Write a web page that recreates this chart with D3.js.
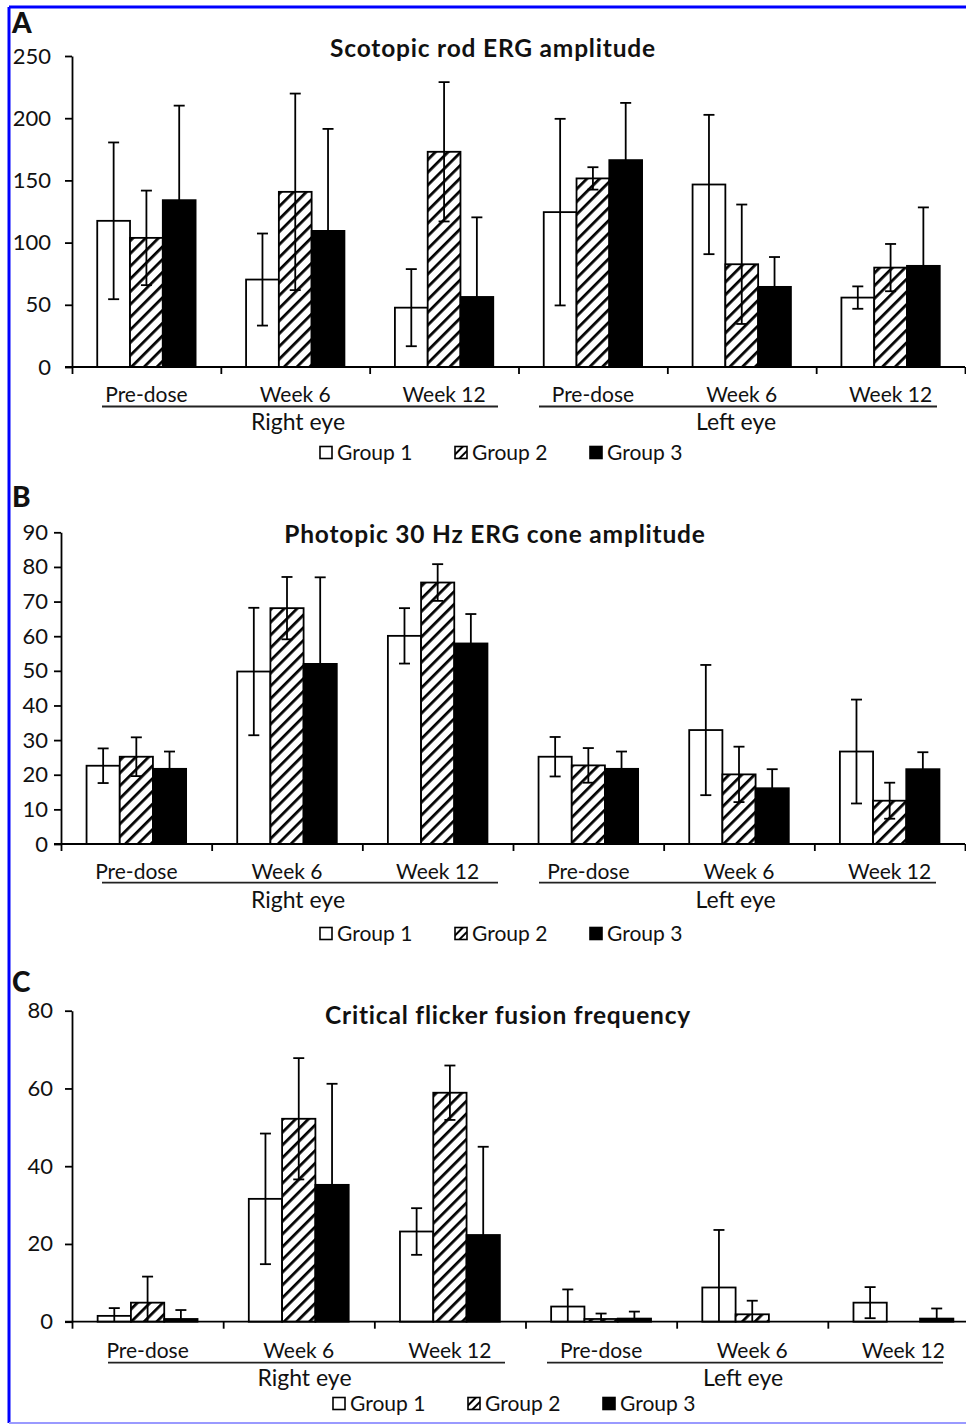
<!DOCTYPE html>
<html>
<head>
<meta charset="utf-8">
<script src="https://cdn.jsdelivr.net/npm/d3@7"></script>
<style>
  body { margin: 0; background: #fff; }
  text { font-family: Lato, "Open Sans", sans-serif; fill: #111; }
</style>
</head>
<body>
<div id="chart"></div>
<script>
// categories + groups
const categories = ["Pre-dose", "Week 6", "Week 12", "Pre-dose", "Week 6", "Week 12"];
const eyes = ["Right eye", "Left eye"];
const groups = ["Group 1", "Group 2", "Group 3"];

// A - scotopic rod ERG amplitude (one row per group)
const rodMeans = [
  [117.5, 70.3, 47.7, 124.5, 146.7, 55.8],
  [103.8, 140.8, 173, 151.6, 82.6, 79.9],
  [134.1, 109.4, 56.3, 166.3, 64.4, 81.3]
];
const rodErrors = [
  [63, 37, 31, 75, 56, 9],
  [38, 79, 56, 9, 48, 19],
  [76, 82, 64, 46, 24, 47]
];
const rodTicks = [0, 50, 100, 150, 200, 250];

// B - photopic 30 Hz ERG cone amplitude
const coneMeans = [
  [22.6, 49.8, 60.1, 25.2, 32.9, 26.7],
  [25.2, 68.1, 75.5, 22.7, 20.1, 12.5],
  [21.7, 52, 57.9, 21.7, 16.1, 21.6]
];
const coneErrors = [
  [5, 18.4, 8, 5.7, 18.8, 15],
  [5.6, 9, 5.3, 5, 8, 5.2],
  [5, 25, 8.5, 5, 5.5, 4.9]
];
const coneTicks = [0, 10, 20, 30, 40, 50, 60, 70, 80, 90];

// C - critical flicker fusion frequency
const flickerMeans = [
  [1.5, 31.6, 23.2, 3.9, 8.8, 4.9],
  [4.9, 52.2, 58.9, 0.7, 1.9, 0],
  [0.7, 35.2, 22.3, 0.8, 0, 0.8]
];
const flickerErrors = [
  [2, 16.8, 6, 4.4, 14.8, 4],
  [6.7, 15.6, 7, 1.4, 3.5, 0],
  [2.3, 26, 22.7, 1.8, 0, 2.6]
];
const flickerTicks = [0, 20, 40, 60, 80];

const W = 966, H = 1425;
const svg = d3.select("#chart").append("svg")
  .attr("width", W).attr("height", H);

// hatch pattern for group 2
const defs = svg.append("defs");
defs.append("pattern")
  .attr("id", "hatch").attr("patternUnits", "userSpaceOnUse")
  .attr("width", 9).attr("height", 9)
  .attr("patternTransform", "rotate(45)")
  .call(p => {
    p.append("rect").attr("width", 9).attr("height", 9).attr("fill", "#fff");
    p.append("line").attr("x1", 0).attr("y1", 0).attr("x2", 0).attr("y2", 9)
      .attr("stroke", "#000").attr("stroke-width", 5.5);
  });
defs.append("pattern")
  .attr("id", "hatchSmall").attr("patternUnits", "userSpaceOnUse")
  .attr("width", 6).attr("height", 6)
  .attr("patternTransform", "rotate(45)")
  .call(p => {
    p.append("rect").attr("width", 6).attr("height", 6).attr("fill", "#fff");
    p.append("line").attr("x1", 0).attr("y1", 0).attr("x2", 0).attr("y2", 6)
      .attr("stroke", "#000").attr("stroke-width", 4);
  });

const fills = ["#fff", "url(#hatch)", "#000"];
const legendFills = ["#fff", "url(#hatchSmall)", "#000"];

// page frame (blue border of the scan)
svg.append("line").attr("x1", 9).attr("y1", 7).attr("x2", W).attr("y2", 7)
  .attr("stroke", "#0000ff").attr("stroke-width", 3);
svg.append("line").attr("x1", 9).attr("y1", 7).attr("x2", 9).attr("y2", 1423)
  .attr("stroke", "#0000ff").attr("stroke-width", 3);
svg.append("line").attr("x1", 9).attr("y1", 1423).attr("x2", W).attr("y2", 1423)
  .attr("stroke", "#9a9aff").attr("stroke-width", 2);

function drawPanel(cfg) {
  const g = svg.append("g");

  const y = d3.scaleLinear()
    .domain([0, d3.max(cfg.ticks)])
    .range([cfg.yBottom, cfg.yTop]);

  const xBand = d3.scaleBand()
    .domain(d3.range(categories.length))
    .range([cfg.x0, cfg.x1])
    .padding(0);

  const xGroup = d3.scaleBand()
    .domain(groups)
    .range([0, xBand.bandwidth()])
    .paddingInner(0)
    .paddingOuter(0.77);

  // panel letter + title
  g.append("text").attr("x", 12).attr("y", cfg.labelY)
    .attr("font-size", 28).attr("font-weight", 900).text(cfg.label);
  g.append("text").attr("x", cfg.titleX).attr("y", cfg.titleY)
    .attr("text-anchor", "middle").attr("letter-spacing", 0.8)
    .attr("font-size", 24.5).attr("font-weight", 700).text(cfg.title);

  // bars
  groups.forEach((grp, gi) => {
    const rows = cfg.means[gi].map((v, i) => ({ i, v, e: cfg.errors[gi][i] }));
    g.selectAll(".bar" + gi)
      .data(rows.filter(d => d.v > 0))
      .enter().append("rect")
      .attr("x", d => xBand(d.i) + xGroup(grp))
      .attr("y", d => y(d.v))
      .attr("width", xGroup.bandwidth())
      .attr("height", d => y(0) - y(d.v))
      .attr("fill", fills[gi])
      .attr("stroke", "#000").attr("stroke-width", 1.8);
  });

  // error bars
  groups.forEach((grp, gi) => {
    const rows = cfg.means[gi].map((v, i) => ({ i, v, e: cfg.errors[gi][i] }))
      .filter(d => d.e > 0);
    const eb = g.selectAll(".err" + gi).data(rows).enter().append("g")
      .attr("stroke", "#000").attr("stroke-width", 1.8);
    const cx = d => xBand(d.i) + xGroup(grp) + xGroup.bandwidth() / 2;
    eb.append("line")
      .attr("x1", cx).attr("x2", cx)
      .attr("y1", d => y(d.v + d.e))
      .attr("y2", d => y(Math.max(0, d.v - d.e)));
    eb.append("line")
      .attr("x1", d => cx(d) - 5.5).attr("x2", d => cx(d) + 5.5)
      .attr("y1", d => y(d.v + d.e)).attr("y2", d => y(d.v + d.e));
    eb.filter(d => d.v - d.e > 0).append("line")
      .attr("x1", d => cx(d) - 5.5).attr("x2", d => cx(d) + 5.5)
      .attr("y1", d => y(d.v - d.e)).attr("y2", d => y(d.v - d.e));
  });

  // y axis
  const yAxis = g.append("g")
    .attr("transform", `translate(${cfg.x0},0)`)
    .call(d3.axisLeft(y).tickValues(cfg.ticks).tickSize(7)
      .tickSizeOuter(0).tickPadding(cfg.tickPad).tickFormat(d3.format("d")));
  yAxis.select(".domain").attr("stroke-width", 1.8);
  yAxis.selectAll(".tick line").attr("stroke-width", 1.8);
  yAxis.selectAll("text").attr("font-size", 22).attr("font-family", null).attr("fill", "#111");

  // x axis: ticks at category boundaries
  const xEdge = d3.scaleLinear().domain([0, categories.length]).range([cfg.x0, cfg.x1]);
  const xAxis = g.append("g")
    .attr("transform", `translate(0,${y(0)})`)
    .call(d3.axisBottom(xEdge).tickValues(d3.range(categories.length + 1))
      .tickSize(7).tickSizeOuter(0).tickFormat(""));
  xAxis.select(".domain").remove();
  xAxis.selectAll(".tick line").attr("stroke-width", 1.8);
  g.append("line")
    .attr("x1", cfg.x0 - 7).attr("x2", Math.min(cfg.x1, W))
    .attr("y1", y(0)).attr("y2", y(0))
    .attr("stroke", "#000").attr("stroke-width", 1.8);

  // category labels
  g.selectAll(".cat").data(categories).enter().append("text")
    .attr("x", (d, i) => xBand(i) + xBand.bandwidth() / 2)
    .attr("y", cfg.catY - 1.5)
    .attr("text-anchor", "middle").attr("font-size", 21)
    .text(d => d);

  // eye grouping lines and labels
  eyes.forEach((eye, k) => {
    const [a, b] = cfg.eyeLines[k];
    g.append("line").attr("x1", a).attr("x2", b)
      .attr("y1", cfg.lineY).attr("y2", cfg.lineY)
      .attr("stroke", "#222").attr("stroke-width", 1.8);
    g.append("text").attr("x", (a + b) / 2 - 2).attr("y", cfg.eyeY + 2)
      .attr("text-anchor", "middle").attr("font-size", 23)
      .text(eye);
  });

  // legend
  const lg = g.selectAll(".leg").data(groups).enter().append("g")
    .attr("transform", (d, i) => `translate(${cfg.legendX + i * 135},${cfg.legendY})`);
  lg.append("rect").attr("x", 0).attr("y", -6.5).attr("width", 12).attr("height", 12)
    .attr("fill", (d, i) => legendFills[i]).attr("stroke", "#000").attr("stroke-width", 1.6);
  lg.append("text").attr("x", 17).attr("y", 7).attr("font-size", 21).text(d => d);
}

drawPanel({
  label: "A", title: "Scotopic rod ERG amplitude",
  means: rodMeans, errors: rodErrors, ticks: rodTicks,
  x0: 72, x1: 965, yTop: 56, yBottom: 367, tickPad: 14,
  labelY: 33, titleX: 493, titleY: 57,
  catY: 403, lineY: 406.5, eyeY: 428,
  eyeLines: [[102, 498], [539, 937]],
  legendX: 320, legendY: 453
});

drawPanel({
  label: "B", title: "Photopic 30 Hz ERG cone amplitude",
  means: coneMeans, errors: coneErrors, ticks: coneTicks,
  x0: 61, x1: 965, yTop: 532.3, yBottom: 844, tickPad: 6,
  labelY: 507, titleX: 495, titleY: 543,
  catY: 880, lineY: 882.7, eyeY: 906,
  eyeLines: [[102, 498], [539, 936]],
  legendX: 320, legendY: 934
});

drawPanel({
  label: "C", title: "Critical flicker fusion frequency",
  means: flickerMeans, errors: flickerErrors, ticks: flickerTicks,
  x0: 72, x1: 979, yTop: 1010.7, yBottom: 1321.7, tickPad: 12,
  labelY: 992, titleX: 508, titleY: 1024,
  catY: 1359, lineY: 1362.7, eyeY: 1384,
  eyeLines: [[108, 505], [547, 943]],
  legendX: 333, legendY: 1404
});
</script>
</body>
</html>
